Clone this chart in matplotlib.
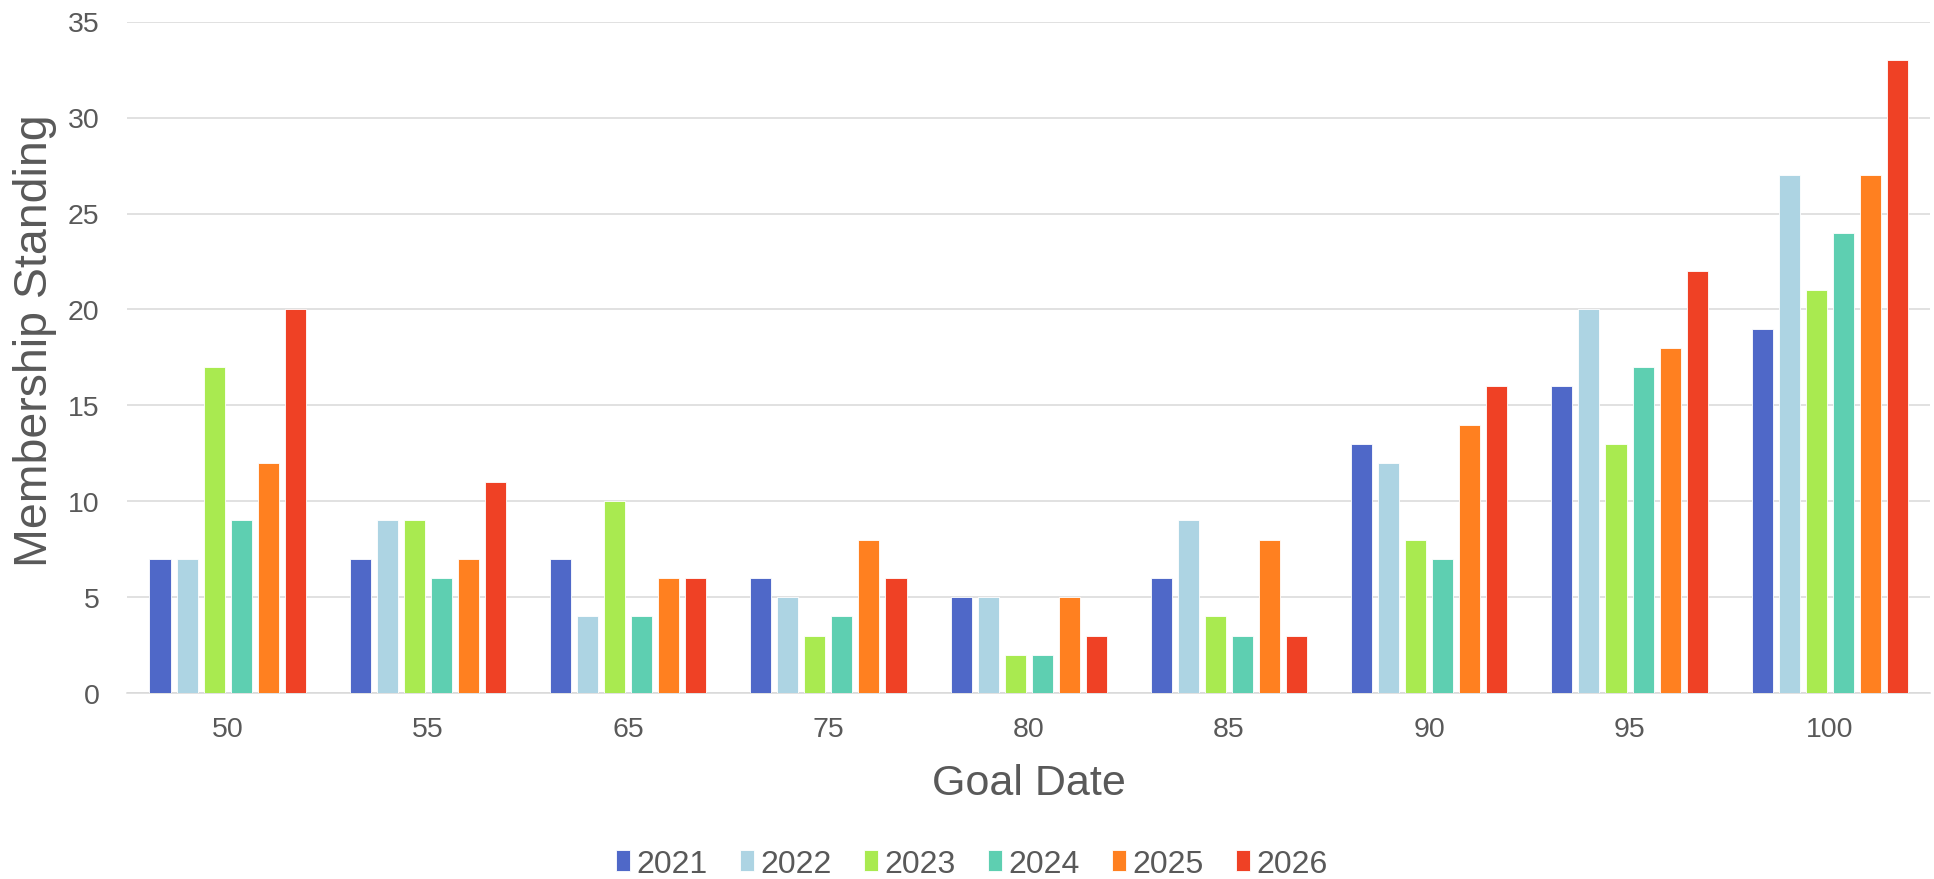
import matplotlib.pyplot as plt
import numpy as np

# data
goal_dates = ["50", "55", "65", "75", "80", "85", "90", "95", "100"]
years = ["2021", "2022", "2023", "2024", "2025", "2026"]
v2021 = [7, 7, 7, 6, 5, 6, 13, 16, 19]
v2022 = [7, 9, 4, 5, 5, 9, 12, 20, 27]
v2023 = [17, 9, 10, 3, 2, 4, 8, 13, 21]
v2024 = [9, 6, 4, 4, 2, 3, 7, 17, 24]
v2025 = [12, 7, 6, 8, 5, 8, 14, 18, 27]
v2026 = [20, 11, 6, 6, 3, 3, 16, 22, 33]
series = [v2021, v2022, v2023, v2024, v2025, v2026]
colors = ["#4F68C8", "#ADD4E3", "#A9EA50", "#5ECFB1", "#FF8020", "#EF4125"]

plt.rcParams['font.family'] = ['Liberation Sans', 'DejaVu Sans']
txt = "#595959"

fig = plt.figure(figsize=(19.34, 8.795), dpi=100)
ax = fig.add_axes([0.0659, 0.2114, 0.932, 0.7633])

x = np.arange(len(goal_dates))
step = 0.135
width = 0.105
for i, vals in enumerate(series):
    offs = (i - 2.5) * step
    ax.bar(x + offs, vals, width, color=colors[i], label=years[i],
           edgecolor="white", linewidth=0.6, zorder=3)

ax.set_xlim(-0.5, len(goal_dates) - 0.5)
ax.set_ylim(0, 35)
ax.set_yticks(range(0, 36, 5))
ax.set_xticks(x)
ax.set_xticklabels(goal_dates)

# grid and spines
ax.yaxis.grid(True, color="#d9d9d9", linewidth=1.1, zorder=0)
ax.set_axisbelow(True)
for s in ["top", "right", "left"]:
    ax.spines[s].set_visible(False)
ax.spines["bottom"].set_color("#d9d9d9")
ax.spines["bottom"].set_linewidth(1.1)
ax.tick_params(axis="both", length=0, labelsize=20.5, labelcolor=txt)
ax.tick_params(axis="y", pad=20)
ax.tick_params(axis="x", pad=17)

ax.set_xlabel("Goal Date", fontsize=31, color=txt, labelpad=15)
ax.set_ylabel("Membership Standing", fontsize=33.5, color=txt)
ax.yaxis.set_label_coords(-0.039, 0.525)

fig.legend(loc="center", bbox_to_anchor=(0.5026, 0.017), ncol=6, frameon=False,
           fontsize=23, labelcolor=txt, handlelength=0.44, handleheight=0.63,
           handletextpad=0.21, columnspacing=1.0)

plt.savefig("out.png", dpi=100)
